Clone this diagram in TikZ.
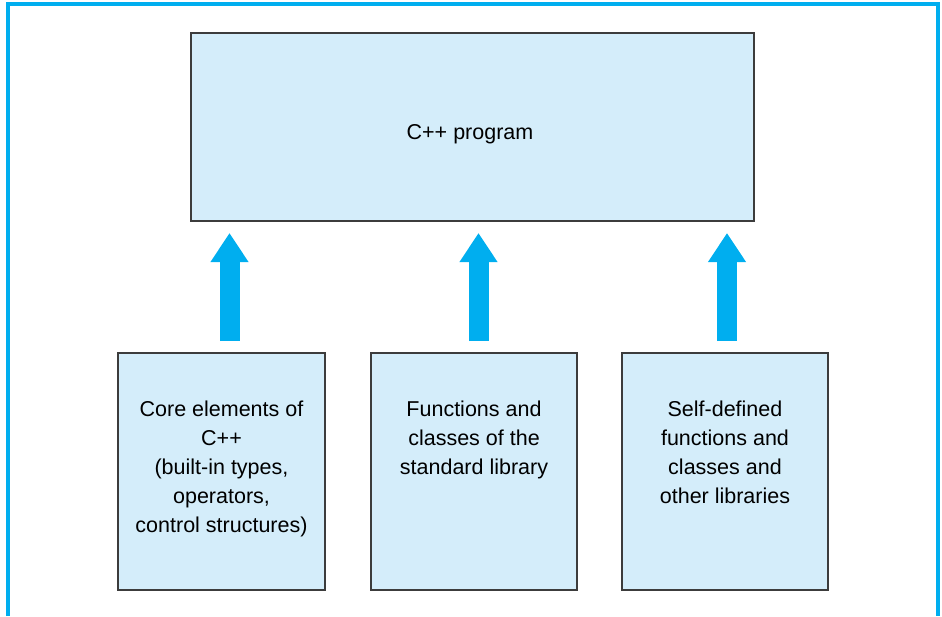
\documentclass[tikz,border=0pt]{standalone}
\usepackage{fontspec}
\setmainfont{Liberation Sans}
\usetikzlibrary{arrows.meta}
\definecolor{boxfill}{HTML}{D4EDFA}
\definecolor{cyanblue}{HTML}{00AEEF}
\definecolor{edgegray}{HTML}{3C3C3C}
\begin{document}
\begin{tikzpicture}[x=1pt,y=-1pt,
  box/.style={draw=edgegray, line width=1.4pt, fill=boxfill, inner sep=0pt, outer sep=0pt},
  label/.style={font=\fontsize{21.5}{29}\selectfont, align=center, inner sep=0pt, anchor=north},
  bigarrow/.style={draw=cyanblue, line width=20pt, -{Triangle[width=36pt,length=29pt]}},
  frame/.style={draw=cyanblue, line width=3.2pt}
]
\useasboundingbox (0,0) rectangle (942,616);
\draw[frame] (8,616) -- (8,4) -- (938,4) -- (938,616);

\node[box, minimum width=563pt, minimum height=188pt] (top) at (472.5,127) {};
\node[font=\fontsize{21.5}{29}\selectfont, inner sep=0pt] (ttop) at (470,134) {C++ program};

\node[box, minimum width=207pt, minimum height=237pt] (b1) at (221.5,471.5) {};
\node[box, minimum width=206pt, minimum height=237pt] (b2) at (474,471.5) {};
\node[box, minimum width=206pt, minimum height=237pt] (b3) at (725,471.5) {};

\node[label] (t1) at ([yshift=-48pt]b1.north) {Core elements of\\C++\\(built-in types,\\operators,\\control structures)};
\node[label] (t2) at ([yshift=-48pt]b2.north) {Functions and\\classes of the\\standard library};
\node[label] (t3) at ([yshift=-48pt]b3.north) {Self-defined\\functions and\\classes and\\other libraries};

\coordinate (a1s) at ([xshift=8pt,yshift=12pt]b1.north);
\coordinate (a2s) at ([xshift=4.5pt,yshift=12pt]b2.north);
\coordinate (a3s) at ([xshift=2pt,yshift=12pt]b3.north);
\coordinate (a1e) at ([yshift=-12pt]top.south -| a1s);
\coordinate (a2e) at ([yshift=-12pt]top.south -| a2s);
\coordinate (a3e) at ([yshift=-12pt]top.south -| a3s);
\draw[bigarrow] (a1s) -- (a1e);
\draw[bigarrow] (a2s) -- (a2e);
\draw[bigarrow] (a3s) -- (a3e);
\end{tikzpicture}
\end{document}
